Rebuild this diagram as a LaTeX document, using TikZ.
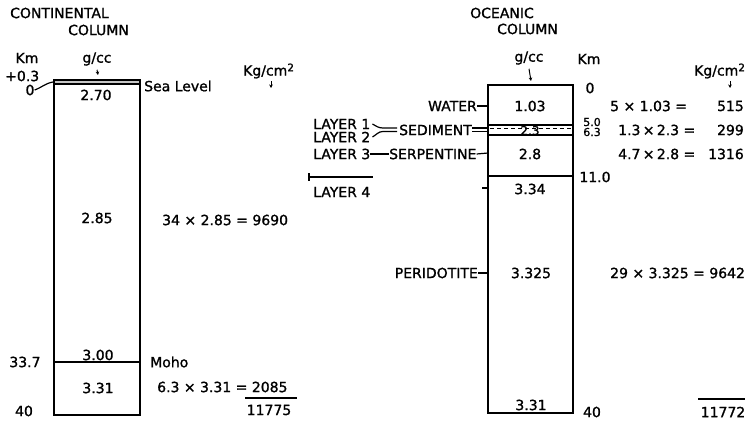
\documentclass[tikz,border=0pt]{standalone}
\usepackage{fontspec}
\setmainfont{DejaVu Sans}[FakeBold=1.2]
\usetikzlibrary{arrows.meta}
\newcommand{\sqr}{\raisebox{0.55ex}{\fontsize{10.5}{11}\selectfont 2}}
\begin{document}
\begin{tikzpicture}[x=1pt,y=-1pt,
  txt/.style={font=\fontsize{14}{16}\selectfont, inner sep=0pt},
  sml/.style={font=\fontsize{11}{12}\selectfont, inner sep=0pt},
  ln/.style={line width=1.6pt},
  lead/.style={line width=1.2pt},
  arr/.style={line width=1pt,-{Stealth[length=3.5pt,width=3.5pt]}}]
\useasboundingbox (0,0) rectangle (756,421);

% ---------- Continental column ----------
\node[txt,anchor=west] (ctit) at (10,13) {CONTINENTAL};
\node[txt,anchor=west] (ccol) at (68,30) {COLUMN};
\node[txt] (ckm) at (27,58) {Km};
\node[txt] (cgcc) at (97,59) {g/cc};
\coordinate (cgarr) at (98,75);
\draw[arr] ([yshift=-4pt]cgcc.south) -- (cgarr);
\node[txt,anchor=west] (cplus) at (5,76) {+0.3};
\node[txt] (czero) at (30,90) {0};
\coordinate (ctl) at (53,82);
\draw[lead] (czero.east) to[out=20,in=190] (ctl);
\draw[ln,fill=gray!45] (54,80) rectangle (140,84);
\draw[ln] (54,84) rectangle (140,415);
\coordinate (cmohoL) at (54,362);
\coordinate (cmohoR) at (140,362);
\draw[ln] (cmohoL) -- (cmohoR);
\node[txt] (c270) at (96,95) {2.70};
\node[txt] (c285) at (97,218) {2.85};
\node[txt] (c300) at (98,355) {3.00};
\node[txt] (c331) at (98,388) {3.31};
\node[txt,anchor=west] (csea) at (144,86) {Sea Level};
\node[txt,anchor=west] (cmoho) at (150,362) {Moho};
\node[txt] (c337) at (25,362) {33.7};
\node[txt] (c40) at (24,411) {40};
\node[txt,anchor=west] (ckg) at (243,71) {Kg/cm\sqr};
\coordinate (ckga) at (271,88);
\draw[arr] (271,81) -- (ckga);
\node[txt,anchor=west] (ceq1) at (162,220) {34 × 2.85 = 9690};
\node[txt,anchor=west] (ceq2) at (157,387) {6.3 × 3.31 = 2085};
\coordinate (csumL) at (245,398);
\coordinate (csumR) at (297,398);
\draw[lead] (csumL) -- (csumR);
\node[txt] (csum) at (269,410) {11775};

% ---------- Oceanic column ----------
\node[txt,anchor=west] (otit) at (470,13) {OCEANIC};
\node[txt,anchor=west] (ocol) at (497,29) {COLUMN};
\node[txt] (ogcc) at (529,58) {g/cc};
\node[txt] (okm) at (589,59) {Km};
\coordinate (ogarr) at (531,81);
\draw[arr] ([yshift=-4pt]ogcc.south) -- (ogarr);
\node[txt] (ozero) at (590,88) {0};
\draw[ln] (488,85) rectangle (573,413);
% sediment band
\draw[ln] (488,125) -- (573,125);
\draw[ln] (488,135) -- (573,135);
\draw[lead,dash pattern=on 4pt off 3pt] (490,128.5) -- (571,128.5);
\node[font=\fontsize{12}{12}\selectfont,inner sep=0pt] (o23) at (530,130.5) {2.3};
% layer 3/4 boundary
\coordinate (o11L) at (488,176);
\coordinate (o11R) at (573,176);
\draw[ln] (o11L) -- (o11R);

\node[txt] (o103) at (530,106) {1.03};
\node[txt] (o28) at (530,154) {2.8};
\node[txt] (o334) at (530,189) {3.34};
\node[txt] (o3325) at (531,273) {3.325};
\node[txt] (o331) at (531,405) {3.31};

\node[sml] (o50) at (592,122) {5.0};
\node[sml] (o63) at (592,132) {6.3};
\node[txt] (o110) at (595,177) {11.0};
\node[txt] (o40) at (592,412) {40};

% left labels
\node[txt,anchor=east] (owater) at (477,106) {WATER};
\draw[lead] (owater.east) -- (488,106);
\node[txt,anchor=east] (osed) at (472,130) {SEDIMENT};
\draw[lead] (osed.east|-0,128) -- (488,128);
\draw[lead] (osed.east|-0,131.5) -- (488,131.5);
\node[txt,anchor=west] (ol1) at (313,124) {LAYER 1};
\node[txt,anchor=west] (ol2) at (313,137) {LAYER 2};
\coordinate (ol1e) at ([xshift=-2pt]osed.west|-0,128);
\coordinate (ol2e) at ([xshift=-2pt]osed.west|-0,131.5);
\draw[lead] ([xshift=2pt]ol1.east) to[out=-30,in=180] (383,128) -- (ol1e);
\draw[lead] ([xshift=2pt]ol2.east) to[out=30,in=180] (383,131.5) -- (ol2e);
\node[txt,anchor=west] (ol3) at (313,154) {LAYER 3};
\node[txt,anchor=west] (oserp) at (389,154) {SERPENTINE};
\draw[lead] (ol3.east) -- (oserp.west);
\draw[lead] (oserp.east) -- (488,153);
\coordinate (ol4a) at (309,177);
\coordinate (ol4b) at (373,177);
\draw[lead] (ol4a) -- (ol4b);
\draw[lead] (309,173) -- (309,181);
\node[txt,anchor=west] (ol4) at (313,192) {LAYER 4};
\coordinate (otick4) at (482,188);
\draw[lead] (otick4) -- (488,188);
\node[txt,anchor=east] (operi) at (478,273) {PERIDOTITE};
\draw[lead] (operi.east) -- (488,273);

% right calculations
\node[txt,anchor=west] (okg) at (694,71) {Kg/cm\sqr};
\coordinate (okga) at (730,88);
\draw[arr] (730,81) -- (okga);
\node[txt,anchor=west] (oe1) at (610,106) {5 × 1.03 =};
\node[txt,anchor=east] (or1) at (744,106) {515};
\node[txt,anchor=west] (oe2) at (618,130) {1.3\,×\,2.3 =};
\node[txt,anchor=east] (or2) at (744,130) {299};
\node[txt,anchor=west] (oe3) at (618,154) {4.7\,×\,2.8 =};
\node[txt,anchor=east] (or3) at (744,154) {1316};
\node[txt,anchor=west] (oe4) at (610,273) {29 × 3.325 = 9642};
\coordinate (osumL) at (698,399);
\coordinate (osumR) at (745,399);
\draw[lead] (osumL) -- (osumR);
\node[txt] (osum) at (723,412) {11772};
\end{tikzpicture}
\end{document}
